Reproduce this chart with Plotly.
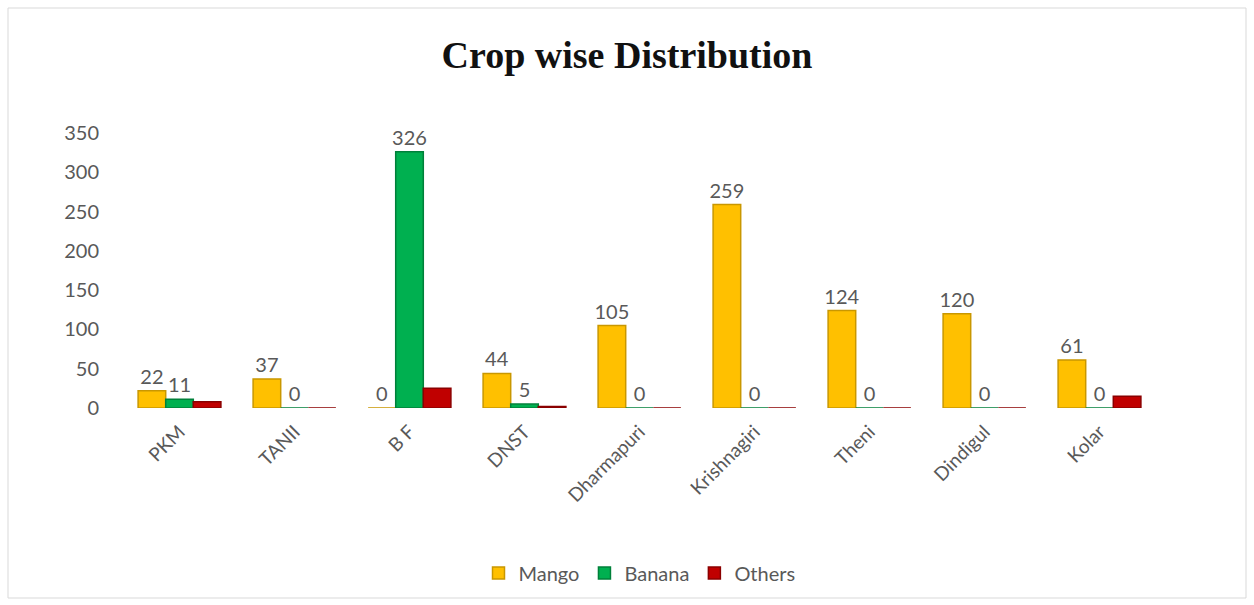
import plotly.graph_objects as go

categories = ["PKM", "TANII", "B F", "DNST", "Dharmapuri", "Krishnagiri", "Theni", "Dindigul", "Kolar"]
mango = [22, 37, 0, 44, 105, 259, 124, 120, 61]
banana = [11, 0, 326, 5, 0, 0, 0, 0, 0]
others = [8, 0, 25, 2, 0, 0, 0, 0, 15]
y_ticks = [0, 50, 100, 150, 200, 250, 300, 350]

W, H = 1254, 605
L, R, T, B = 122, 97, 133, 197
pw, ph = W - L - R, H - T - B

def px(x):
    return (x - L) / pw

def py(y):
    return (H - B - y) / ph

label_font = dict(color="#595959", size=20, family="Lato")

fig = go.Figure()
fig.add_trace(go.Bar(x=categories, y=mango, name="Mango",
                     marker=dict(color="#FFC000", line=dict(color="#C99700", width=1.5)),
                     text=[str(v) for v in mango], textposition="outside",
                     textfont=label_font, cliponaxis=False))
fig.add_trace(go.Bar(x=categories, y=banana, name="Banana",
                     marker=dict(color="#00B050", line=dict(color="#00803A", width=1.5)),
                     text=[str(v) for v in banana], textposition="outside",
                     textfont=label_font, cliponaxis=False))
fig.add_trace(go.Bar(x=categories, y=others, name="Others",
                     marker=dict(color="#C00000", line=dict(color="#8A0000", width=1.5)),
                     cliponaxis=False))

fig.update_layout(
    width=W, height=H,
    margin=dict(l=L, r=R, t=T, b=B),
    paper_bgcolor="white", plot_bgcolor="white",
    barmode="group", bargap=0.28, bargroupgap=0.0,
    uniformtext=dict(minsize=20, mode="show"),
    title=dict(text="<b>Crop wise Distribution</b>", x=0.5, xanchor="center",
               y=1 - 55 / H, yanchor="middle",
               font=dict(family="Liberation Serif", size=38, color="#111111")),
    xaxis=dict(tickangle=-45, showgrid=False, showline=False, zeroline=False,
               tickfont=dict(family="Lato", size=19, color="#595959"), ticks="",
               ticklabelstandoff=8),
    yaxis=dict(range=[0, 350], tickvals=y_ticks, showgrid=False, showline=False,
               zeroline=False, ticks="", ticklabelstandoff=22,
               tickfont=dict(family="Lato", size=20, color="#595959")),
    legend=dict(orientation="h", x=0.5, xanchor="center", y=py(573), yanchor="middle",
                font=dict(family="Lato", size=20, color="#595959"),
                itemwidth=30, traceorder="normal"),
    font=dict(family="Lato"),
    shapes=[dict(type="rect", xref="paper", yref="paper",
                 x0=px(8), x1=px(1246), y0=py(598), y1=py(8),
                 line=dict(color="#D9D9D9", width=1), fillcolor="rgba(0,0,0,0)")],
)

fig.write_html("out.html")
